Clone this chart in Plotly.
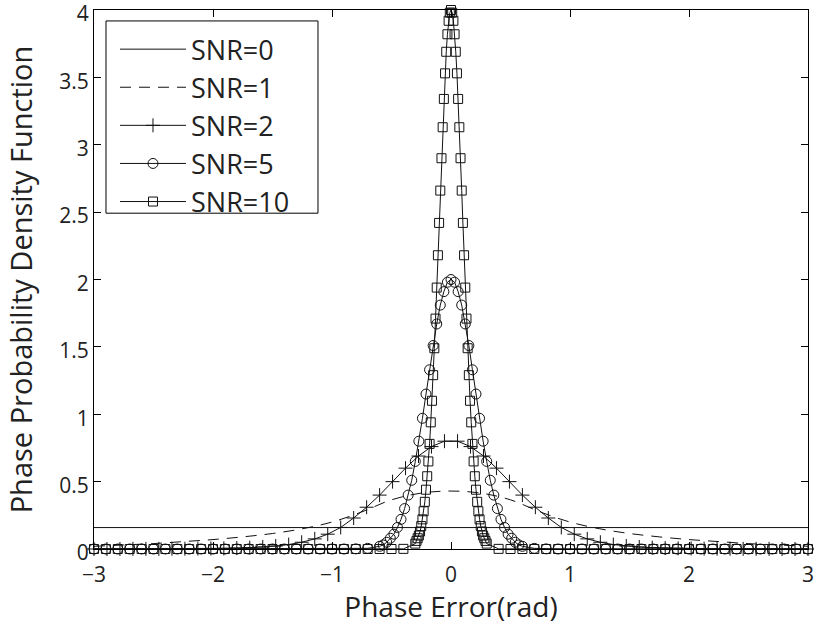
import plotly.graph_objects as go

# ---------------- data ----------------
series_names = ["SNR=0", "SNR=1", "SNR=2", "SNR=5", "SNR=10"]
x_ticks = [-3, -2, -1, 0, 1, 2, 3]
y_ticks = [0, 0.5, 1, 1.5, 2, 2.5, 3, 3.5, 4]
y_tick_text = ["0", "0.5", "1", "1.5", "2", "2.5", "3", "3.5", "4"]

# SNR=0 : flat density
x_snr0 = [-3.0, 3.0]
y_snr0 = [0.159, 0.159]

# SNR=1 : dashed, no markers
x_snr1 = [-3.0, -2.75, -2.5, -2.25, -2.0, -1.75, -1.5, -1.25, -1.0, -0.75, -0.5, -0.25,
          0.0, 0.25, 0.5, 0.75, 1.0, 1.25, 1.5, 1.75, 2.0, 2.25, 2.5, 2.75, 3.0]
y_snr1 = [0.02, 0.03, 0.04, 0.055, 0.07, 0.09, 0.115, 0.15, 0.20, 0.275, 0.365, 0.415,
          0.43, 0.415, 0.365, 0.275, 0.20, 0.15, 0.115, 0.09, 0.07, 0.055, 0.04, 0.03, 0.02]

# SNR=2 : '+' markers
x_snr2 = [-3.000, -2.891, -2.782, -2.673, -2.564, -2.455, -2.345, -2.236, -2.127, -2.018,
          -1.909, -1.800, -1.691, -1.582, -1.473, -1.364, -1.255, -1.145, -1.036, -0.927,
          -0.818, -0.709, -0.600, -0.491, -0.382, -0.273, -0.164, -0.055,
          0.055, 0.164, 0.273, 0.382, 0.491, 0.600, 0.709, 0.818, 0.927, 1.036,
          1.145, 1.255, 1.364, 1.473, 1.582, 1.691, 1.800, 1.909, 2.018, 2.127,
          2.236, 2.345, 2.455, 2.564, 2.673, 2.782, 2.891, 3.000]
y_snr2 = [0.0, 0.0, 0.0, 0.001, 0.001, 0.001, 0.002, 0.002, 0.003, 0.004,
          0.005, 0.007, 0.01, 0.015, 0.022, 0.033, 0.05, 0.075, 0.11, 0.16,
          0.23, 0.31, 0.40, 0.50, 0.60, 0.69, 0.76, 0.80,
          0.80, 0.76, 0.69, 0.60, 0.50, 0.40, 0.31, 0.23, 0.16, 0.11,
          0.075, 0.05, 0.033, 0.022, 0.015, 0.01, 0.007, 0.005, 0.004, 0.003,
          0.002, 0.002, 0.001, 0.001, 0.001, 0.0, 0.0, 0.0]

# SNR=5 : circle markers
x_snr5 = [-3.0, -2.9, -2.8, -2.7, -2.6, -2.5, -2.4, -2.3, -2.2, -2.1, -2.0, -1.9, -1.8,
          -1.7, -1.6, -1.5, -1.4, -1.3, -1.2, -1.1, -1.0, -0.9, -0.8, -0.7,
          -0.60, -0.57, -0.54, -0.51, -0.48, -0.45, -0.42, -0.39, -0.36, -0.33, -0.30,
          -0.27, -0.24, -0.21, -0.18, -0.15, -0.12, -0.09, -0.06, -0.03, 0.0,
          0.03, 0.06, 0.09, 0.12, 0.15, 0.18, 0.21, 0.24, 0.27, 0.30,
          0.33, 0.36, 0.39, 0.42, 0.45, 0.48, 0.51, 0.54, 0.57, 0.60,
          0.7, 0.8, 0.9, 1.0, 1.1, 1.2, 1.3, 1.4, 1.5, 1.6, 1.7, 1.8,
          1.9, 2.0, 2.1, 2.2, 2.3, 2.4, 2.5, 2.6, 2.7, 2.8, 2.9, 3.0]
y_snr5 = [0.0, 0.0, 0.0, 0.0, 0.0, 0.0, 0.0, 0.0, 0.0, 0.0, 0.0, 0.0, 0.0,
          0.0, 0.0, 0.0, 0.0, 0.0, 0.0, 0.0, 0.0, 0.0, 0.001, 0.005,
          0.02, 0.03, 0.05, 0.08, 0.11, 0.16, 0.22, 0.30, 0.40, 0.51, 0.65,
          0.80, 0.97, 1.15, 1.33, 1.51, 1.67, 1.81, 1.91, 1.98, 2.00,
          1.98, 1.91, 1.81, 1.67, 1.51, 1.33, 1.15, 0.97, 0.80, 0.65,
          0.51, 0.40, 0.30, 0.22, 0.16, 0.11, 0.08, 0.05, 0.03, 0.02,
          0.005, 0.001, 0.0, 0.0, 0.0, 0.0, 0.0, 0.0, 0.0, 0.0, 0.0, 0.0,
          0.0, 0.0, 0.0, 0.0, 0.0, 0.0, 0.0, 0.0, 0.0, 0.0, 0.0, 0.0]

# SNR=10 : square markers
x_snr10 = [-3.0, -2.9, -2.8, -2.7, -2.6, -2.5, -2.4, -2.3, -2.2, -2.1, -2.0, -1.9, -1.8,
           -1.7, -1.6, -1.5, -1.4, -1.3, -1.2, -1.1, -1.0, -0.9, -0.8, -0.7, -0.6, -0.5, -0.4,
           -0.30, -0.29, -0.28, -0.27, -0.26, -0.25, -0.24, -0.23, -0.22, -0.21, -0.20,
           -0.19, -0.18, -0.17, -0.16, -0.15, -0.14, -0.13, -0.12, -0.11, -0.10,
           -0.09, -0.08, -0.07, -0.06, -0.05, -0.04, -0.03, -0.02, -0.01, 0.0,
           0.01, 0.02, 0.03, 0.04, 0.05, 0.06, 0.07, 0.08, 0.09, 0.10,
           0.11, 0.12, 0.13, 0.14, 0.15, 0.16, 0.17, 0.18, 0.19, 0.20,
           0.21, 0.22, 0.23, 0.24, 0.25, 0.26, 0.27, 0.28, 0.29, 0.30,
           0.4, 0.5, 0.6, 0.7, 0.8, 0.9, 1.0, 1.1, 1.2, 1.3, 1.4, 1.5, 1.6,
           1.7, 1.8, 1.9, 2.0, 2.1, 2.2, 2.3, 2.4, 2.5, 2.6, 2.7, 2.8, 2.9, 3.0]
y_snr10 = [0.0, 0.0, 0.0, 0.0, 0.0, 0.0, 0.0, 0.0, 0.0, 0.0, 0.0, 0.0, 0.0,
           0.0, 0.0, 0.0, 0.0, 0.0, 0.0, 0.0, 0.0, 0.0, 0.0, 0.0, 0.0, 0.0, 0.001,
           0.04, 0.06, 0.08, 0.10, 0.13, 0.17, 0.22, 0.28, 0.35, 0.44, 0.54,
           0.65, 0.78, 0.94, 1.10, 1.29, 1.49, 1.71, 1.94, 2.18, 2.42,
           2.66, 2.90, 3.13, 3.34, 3.53, 3.69, 3.82, 3.92, 3.98, 4.00,
           3.98, 3.92, 3.82, 3.69, 3.53, 3.34, 3.13, 2.90, 2.66, 2.42,
           2.18, 1.94, 1.71, 1.49, 1.29, 1.10, 0.94, 0.78, 0.65, 0.54,
           0.44, 0.35, 0.28, 0.22, 0.17, 0.13, 0.10, 0.08, 0.06, 0.04,
           0.001, 0.0, 0.0, 0.0, 0.0, 0.0, 0.0, 0.0, 0.0, 0.0, 0.0, 0.0, 0.0,
           0.0, 0.0, 0.0, 0.0, 0.0, 0.0, 0.0, 0.0, 0.0, 0.0, 0.0, 0.0, 0.0, 0.0]

# ---------------- figure ----------------
FONT = "Open Sans"
INK = "#111111"
TXT = "#222222"

fig = go.Figure()
fig.add_trace(go.Scatter(x=x_snr0, y=y_snr0, name=series_names[0], mode="lines",
                         line=dict(color=INK, width=1)))
fig.add_trace(go.Scatter(x=x_snr1, y=y_snr1, name=series_names[1], mode="lines",
                         line=dict(color=INK, width=1, dash="11px,8px", shape="spline")))
fig.add_trace(go.Scatter(x=x_snr2, y=y_snr2, name=series_names[2], mode="lines+markers",
                         line=dict(color=INK, width=1),
                         marker=dict(symbol="cross-thin-open", size=10,
                                     line=dict(color=INK, width=1)),
                         cliponaxis=False))
fig.add_trace(go.Scatter(x=x_snr5, y=y_snr5, name=series_names[3], mode="lines+markers",
                         line=dict(color=INK, width=1),
                         marker=dict(symbol="circle-open", size=10, color=INK,
                                     line=dict(color=INK, width=1)),
                         cliponaxis=False))
fig.add_trace(go.Scatter(x=x_snr10, y=y_snr10, name=series_names[4], mode="lines+markers",
                         line=dict(color=INK, width=1),
                         marker=dict(symbol="square-open", size=9, color=INK,
                                     line=dict(color=INK, width=1)),
                         cliponaxis=False))

axis_common = dict(showgrid=False, zeroline=False, showline=True, linecolor="black",
                   linewidth=1, mirror="ticks", ticks="inside", ticklen=7,
                   tickcolor="black", tickwidth=1, ticklabeloverflow="allow",
                   automargin=False,
                   tickfont=dict(family=FONT, size=21, color=TXT))

fig.update_xaxes(range=[-3, 3], tickvals=x_ticks, ticklabelstandoff=7,
                 title=dict(text="Phase Error(rad)",
                            font=dict(family=FONT, size=28, color=TXT),
                            standoff=6),
                 **axis_common)
fig.update_yaxes(range=[0, 4], tickvals=y_ticks, ticktext=y_tick_text,
                 ticklabelshift=4,
                 title=dict(text="Phase Probability Density Function",
                            font=dict(family=FONT, size=29, color=TXT),
                            standoff=18),
                 **axis_common)

# legend frame (drawn as a box behind the legend entries)
fig.add_shape(type="rect", xref="paper", yref="paper",
              x0=0.0168, x1=0.3137, y0=0.623, y1=0.9797,
              line=dict(color="black", width=1), fillcolor="white", layer="below")

fig.update_layout(
    width=814, height=625,
    margin=dict(l=94, r=6, t=10, b=76, autoexpand=False),
    paper_bgcolor="white", plot_bgcolor="white",
    font=dict(family=FONT, size=21, color=TXT),
    legend=dict(x=0.0294, y=0.972, xanchor="left", yanchor="top",
                bgcolor="rgba(0,0,0,0)", borderwidth=0,
                font=dict(family=FONT, size=27, color=TXT),
                itemwidth=66, tracegroupgap=0),
    showlegend=True,
)

fig.write_html("out.html", config={"displayModeBar": False},
               post_script="document.body.style.margin='0px';")
